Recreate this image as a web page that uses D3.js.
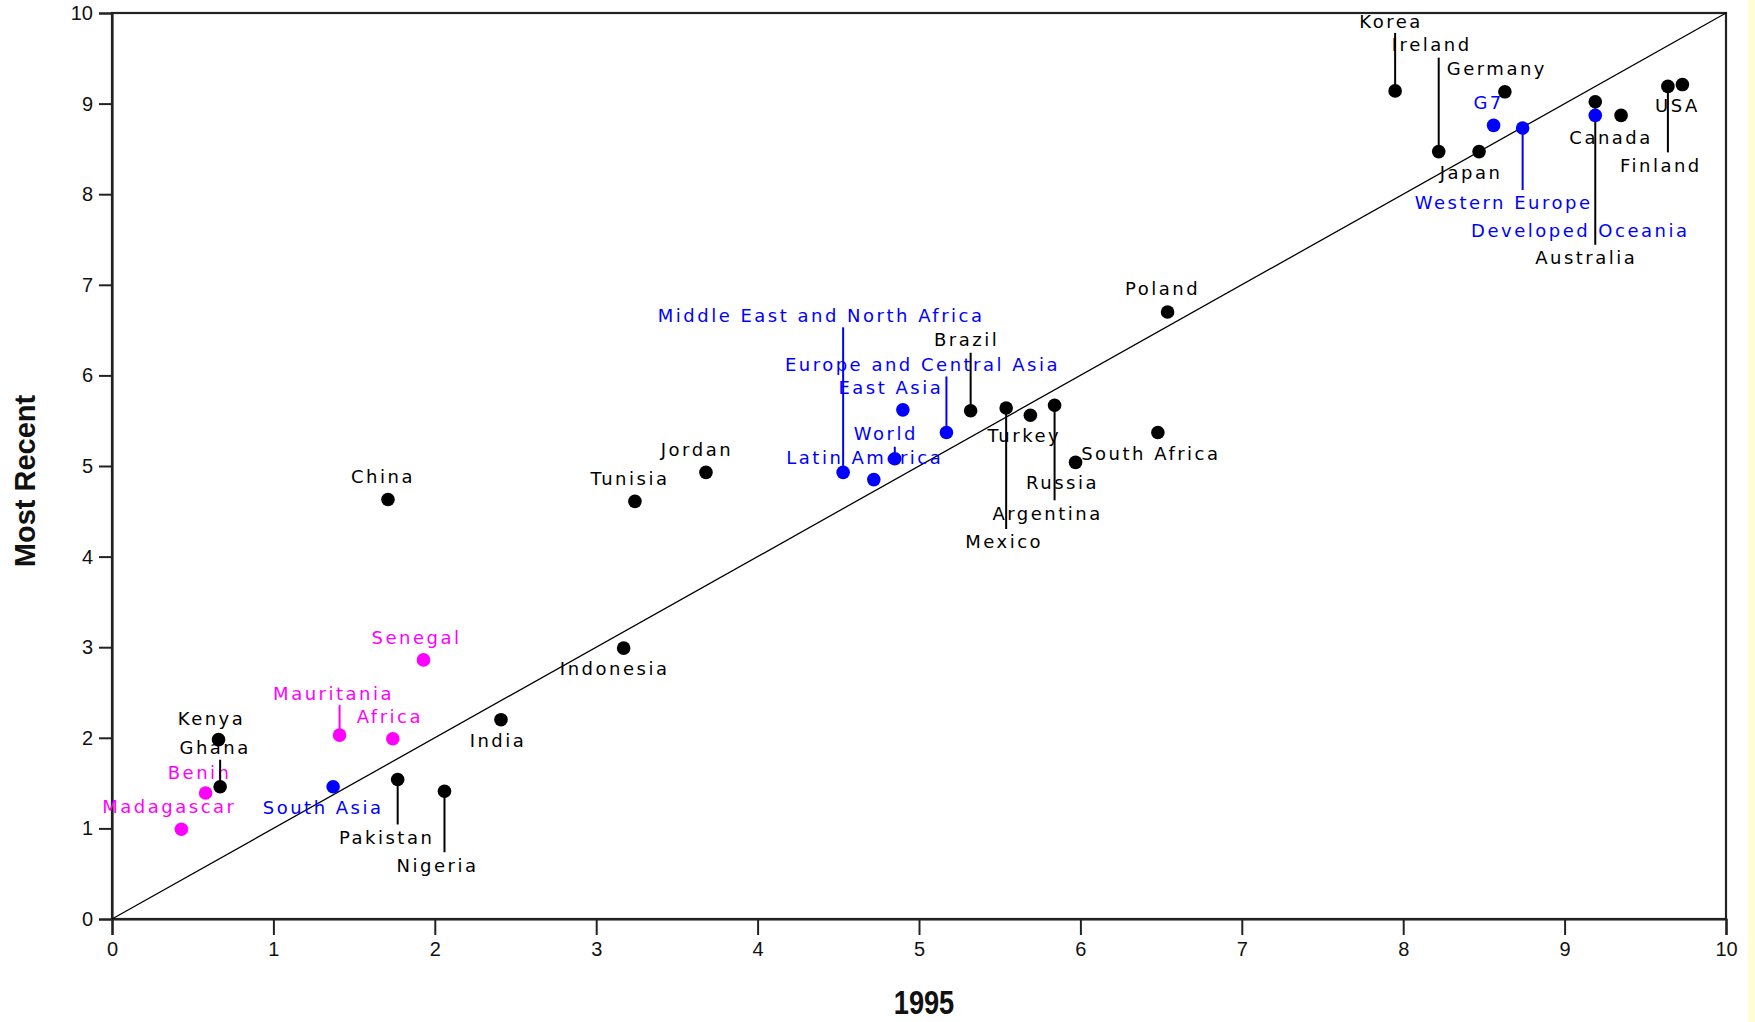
<!DOCTYPE html>
<html>
<head>
<meta charset="utf-8">
<script src="https://cdn.jsdelivr.net/npm/d3@7"></script>
<style>
    html, body { margin: 0; padding: 0; background: #fff; }
    .tick text { font-family: "Liberation Sans", Arial, sans-serif; font-size: 20px; fill: #111; }
    .lbl { font-family: "DejaVu Sans", Verdana, sans-serif; font-size: 18px; letter-spacing: 2.5px; }
</style>
</head>
<body>
<div id="chart"></div>
<script>

// countries and regions, 1995 score vs most recent score
var names = ["Korea", "Ireland", "Germany", "G7", "Japan", "Western Europe", "Australia", "Developed Oceania",
    "Canada", "Finland", "USA", "Poland", "South Africa", "Russia", "Argentina", "Turkey", "Mexico", "Brazil",
    "Europe and Central Asia", "East Asia", "World", "Latin America", "Middle East and North Africa", "Jordan",
    "Tunisia", "China", "Indonesia", "India", "Nigeria", "Pakistan", "Senegal", "Africa", "Mauritania",
    "South Asia", "Kenya", "Ghana", "Benin", "Madagascar"];

var score1995 = [7.95, 8.22, 8.63, 8.56, 8.47, 8.74, 9.19, 9.19,
    9.35, 9.64, 9.73, 6.54, 6.48, 5.97, 5.84, 5.69, 5.54, 5.32,
    5.17, 4.90, 4.85, 4.72, 4.53, 3.68,
    3.24, 1.71, 3.17, 2.41, 2.06, 1.77, 1.93, 1.74, 1.41,
    1.37, 0.66, 0.67, 0.58, 0.43];

var scoreRecent = [9.14, 8.47, 9.13, 8.76, 8.47, 8.73, 9.02, 8.87,
    8.87, 9.19, 9.21, 6.70, 5.37, 5.04, 5.67, 5.56, 5.64, 5.61,
    5.37, 5.62, 5.08, 4.85, 4.93, 4.93,
    4.61, 4.63, 2.99, 2.20, 1.41, 1.54, 2.86, 1.99, 2.03,
    1.46, 1.98, 1.46, 1.39, 0.99];

// c = country, r = region aggregate, a = african country
var kind = ["c", "c", "c", "r", "c", "r", "c", "r",
    "c", "c", "c", "c", "c", "c", "c", "c", "c", "c",
    "r", "r", "r", "r", "r", "c",
    "c", "c", "c", "c", "c", "c", "a", "a", "a",
    "r", "c", "c", "a", "a"];

var xTicks = [0, 1, 2, 3, 4, 5, 6, 7, 8, 9, 10];
var yTicks = [0, 1, 2, 3, 4, 5, 6, 7, 8, 9, 10];

// label placement: [dx, dy, leader length] in pixels relative to the point
var labelLayout = {
    "Korea": [-4, -69, -58], "Ireland": [-7, -107, -94], "Germany": [-8, -23, 0], "G7": [-5, -23, 0],
    "Japan": [-8, 21, 0], "Western Europe": [-19, 74, 62], "Australia": [-9, 156, 143],
    "Developed Oceania": [-15, 115, 0], "Canada": [-10, 22, 0], "Finland": [-7, 79, 66], "USA": [-5, 21, 0],
    "Poland": [-5, -23, 0], "South Africa": [-7, 21, 0], "Russia": [-13, 20, 0], "Argentina": [-7, 108, 95],
    "Turkey": [-6, 20, 0], "Mexico": [-2, 134, 121], "Brazil": [-4, -71, -58],
    "Europe and Central Asia": [-24, -68, -56], "East Asia": [-12, -22, 0], "World": [-9, -25, -12],
    "Latin America": [-9, -22, 0], "Middle East and North Africa": [-22, -157, -145], "Jordan": [-9, -23, 0],
    "Tunisia": [-5, -23, 0], "China": [-5, -23, 0], "Indonesia": [-9, 20, 0], "India": [-3, 21, 0],
    "Nigeria": [-7, 74, 61], "Pakistan": [-11, 58, 45], "Senegal": [-7, -22, 0], "Africa": [-3, -22, 0],
    "Mauritania": [-6, -42, -30], "South Asia": [-10, 21, 0], "Kenya": [-7, -21, 0], "Ghana": [-5, -39, -27],
    "Benin": [-6, -21, 0], "Madagascar": [-12, -23, 0]
};

var colors = {c: "#000000", r: "#0000ff", a: "#ff00ff"};

var W = 1755, H = 1022;
var margin = {top: 13, right: 29, bottom: 103, left: 112};
var width = W - margin.left - margin.right,
    height = H - margin.top - margin.bottom;

var data = names.map(function (n, i) {
    return {name: n, x: score1995[i], y: scoreRecent[i], kind: kind[i]};
});

var svgRoot = d3.select("#chart").append("svg")
    .attr("width", W)
    .attr("height", H);

svgRoot.append("rect").attr("width", W).attr("height", H).attr("fill", "#ffffff");
// yellowish strip at the right edge of the picture
svgRoot.append("rect").attr("x", 1748).attr("y", 0).attr("width", W - 1748).attr("height", H).attr("fill", "#ffffd6");

var svg = svgRoot.append("g")
    .attr("transform", "translate(" + margin.left + "," + margin.top + ")");

var x = d3.scaleLinear().domain([0, 10]).range([0, width]);
var y = d3.scaleLinear().domain([0, 10]).range([height, 0]);

// frame
svg.append("rect")
    .attr("width", width)
    .attr("height", height)
    .attr("fill", "none")
    .attr("stroke", "#222")
    .attr("stroke-width", 2.2);

// axes
var yAxis = svg.append("g")
    .call(d3.axisLeft(y).tickValues(yTicks).tickFormat(d3.format("d")).tickSize(13).tickPadding(6));
var xAxis = svg.append("g")
    .attr("transform", "translate(0," + height + ")")
    .call(d3.axisBottom(x).tickValues(xTicks).tickFormat(d3.format("d")).tickSize(16).tickPadding(7));
[xAxis, yAxis].forEach(function (a) {
    a.select(".domain").attr("stroke", "#222").attr("stroke-width", 2.2);
    a.selectAll(".tick line").attr("stroke", "#222").attr("stroke-width", 2);
});

// 45 degree reference line
svg.append("line")
    .attr("x1", x(0)).attr("y1", y(0))
    .attr("x2", x(10)).attr("y2", y(10))
    .attr("stroke", "#000")
    .attr("stroke-width", 1.3);

// labels
svg.selectAll(".lbl")
    .data(data)
    .enter().append("text")
    .attr("class", "lbl")
    .attr("x", function (d) { return x(d.x) + labelLayout[d.name][0]; })
    .attr("y", function (d) { return y(d.y) + labelLayout[d.name][1]; })
    .attr("dy", "0.36em")
    .attr("text-anchor", "middle")
    .attr("fill", function (d) { return colors[d.kind]; })
    .text(function (d) { return d.name; });

// leader lines
svg.selectAll(".leader")
    .data(data.filter(function (d) { return labelLayout[d.name][2] !== 0; }))
    .enter().append("line")
    .attr("class", "leader")
    .attr("x1", function (d) { return x(d.x); })
    .attr("x2", function (d) { return x(d.x); })
    .attr("y1", function (d) { return y(d.y); })
    .attr("y2", function (d) { return y(d.y) + labelLayout[d.name][2]; })
    .attr("stroke", function (d) { return colors[d.kind]; })
    .attr("stroke-width", 2);

// points
svg.selectAll(".dot")
    .data(data)
    .enter().append("circle")
    .attr("class", "dot")
    .attr("cx", function (d) { return x(d.x); })
    .attr("cy", function (d) { return y(d.y); })
    .attr("r", 6.8)
    .attr("fill", function (d) { return colors[d.kind]; });

// axis titles
svgRoot.append("text")
    .attr("transform", "translate(35," + 481 + ") rotate(-90)")
    .attr("text-anchor", "middle")
    .style("font-family", "'Liberation Sans', Arial, sans-serif")
    .style("font-weight", "bold")
    .style("font-size", "29px")
    .attr("fill", "#111")
    .text("Most Recent");

svgRoot.append("text")
    .attr("transform", "translate(924,1014) scale(0.8,1)")
    .attr("text-anchor", "middle")
    .style("font-family", "'Liberation Sans', Arial, sans-serif")
    .style("font-weight", "bold")
    .style("font-size", "34px")
    .attr("fill", "#111")
    .text("1995");

</script>
</body>
</html>
